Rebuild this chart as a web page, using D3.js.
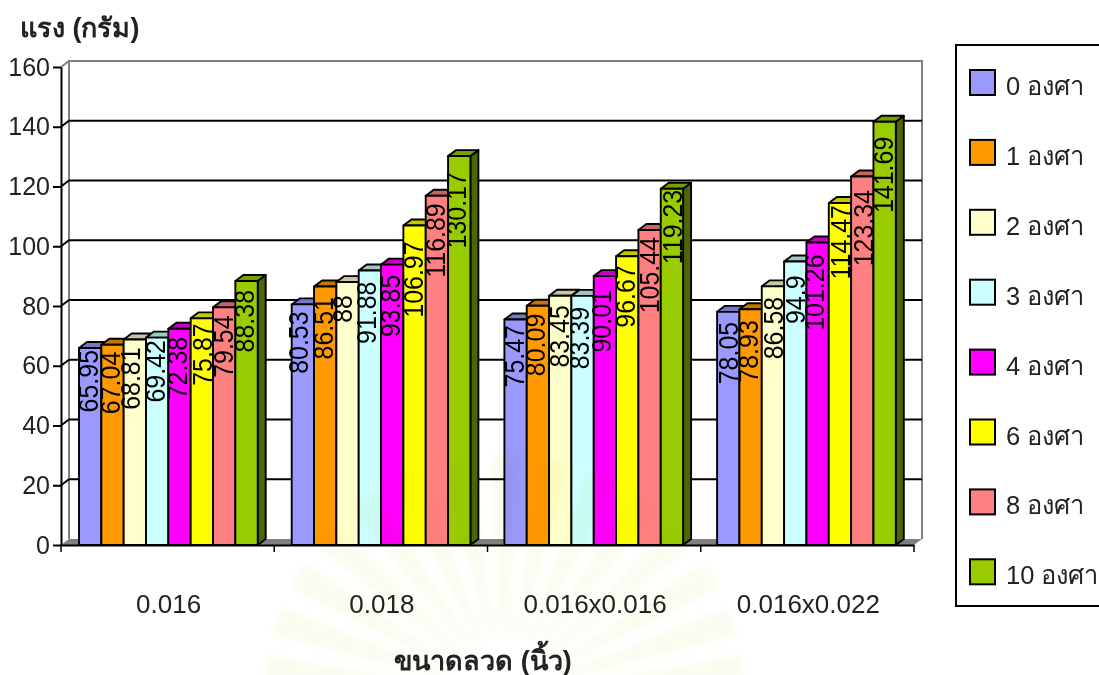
<!DOCTYPE html>
<html>
<head>
<meta charset="utf-8">
<script src="https://cdn.jsdelivr.net/npm/d3@7"></script>
<style>
html,body{margin:0;padding:0;background:#fff;}
svg{display:block;}
text{font-family:"Liberation Sans",Arial,sans-serif;fill:#222;}
</style>
</head>
<body>
<svg id="chart" width="1099" height="675"></svg>
<script>
const categories = ["0.016", "0.018", "0.016x0.016", "0.016x0.022"];
const seriesNames = ["0 องศา", "1 องศา", "2 องศา", "3 องศา", "4 องศา", "6 องศา", "8 องศา", "10 องศา"];
const deg0 = [65.95, 80.53, 75.47, 78.05];
const deg1 = [67.04, 86.51, 80.09, 78.93];
const deg2 = [68.81, 88, 83.45, 86.58];
const deg3 = [69.42, 91.88, 83.39, 94.9];
const deg4 = [72.38, 93.85, 90.01, 101.26];
const deg6 = [75.87, 106.97, 96.67, 114.47];
const deg8 = [79.54, 116.89, 105.44, 123.34];
const deg10 = [88.38, 130.17, 119.23, 141.69];
const seriesValues = [deg0, deg1, deg2, deg3, deg4, deg6, deg8, deg10];
const yTicks = [0, 20, 40, 60, 80, 100, 120, 140, 160];
const fills = ["#9999ff", "#ff9900", "#ffffcc", "#ccffff", "#ff00ff", "#ffff00", "#ff8080", "#99cc00"];

// Nudges for the value labels: how far each one starts below its bar top, and
// how far it sits from the bar centre (rows follow the series, columns the categories).
const labelDrop = [
  [2, 7, 5.5, 10], [7, 10.5, 8, 11], [8, 13, 9.5, 10.5], [2.5, 11, 11, 14],
  [8, 10, 14, 12], [5, 16, 9, 2], [8, 7.5, 7, 13.5], [9, 16, 1, 15]
];
const labelSide = [
  [-2, -4, -1, 0], [-2, -2, -3, -2], [-4, -5, -1, 0], [-2, -3, -3, 0],
  [-2, -2, -4, -3], [1, -1, -2, 0], [-1, -1, 0, 1], [-2, -3, 0, -1]
];
// Angles of the pale rays in the seal printed behind the page
const rayAngles = [-84, -72, -60, -48, -36, -24, -12, 0, 12, 24, 36, 48, 60, 72, 84];

const svg = d3.select("#chart");
const depthX = 8, depthY = 6;
const plotLeft = 61, plotRight = 914, plotTop = 67, plotBottom = 545;

const x = d3.scaleBand().domain(categories).range([plotLeft, plotRight]);
const barBand = d3.scaleBand().domain(categories).range([62, 912.8]);
const inner = d3.scaleBand().domain(d3.range(seriesNames.length)).range([17, barBand.bandwidth() - 17]);
const y = d3.scaleLinear().domain([0, 160]).range([plotBottom, plotTop]);

// floor and walls of the 3D plot box
svg.append("path")
  .attr("d", `M${plotLeft},${plotBottom}L${plotLeft + depthX},${plotBottom - depthY}L${plotRight + depthX},${plotBottom - depthY}L${plotRight},${plotBottom}Z`)
  .attr("fill", "#808080");
svg.append("path")
  .attr("d", `M${plotLeft},${plotTop}L${plotLeft + depthX},${plotTop - depthY}L${plotRight + depthX},${plotTop - depthY}L${plotRight + depthX},${plotBottom - depthY}`)
  .attr("fill", "none").attr("stroke", "#808080").attr("stroke-width", 2);
svg.append("line")
  .attr("x1", plotLeft + depthX).attr("x2", plotLeft + depthX)
  .attr("y1", plotTop - depthY).attr("y2", plotBottom - depthY)
  .attr("stroke", "#808080").attr("stroke-width", 2);

// gridlines run along the side wall and then the back wall
svg.append("g").selectAll("path").data(yTicks.filter(t => t > 0 && t < 160)).join("path")
  .attr("d", t => `M${plotLeft},${y(t)}L${plotLeft + depthX},${y(t) - depthY}L${plotRight + depthX},${y(t) - depthY}`)
  .attr("fill", "none").attr("stroke", "#000").attr("stroke-width", 2);

// bars: side face, top face, front face
const bars = svg.append("g");
categories.forEach((cat, c) => {
  seriesValues.forEach((vals, s) => {
    const v = vals[c];
    const bx = barBand(cat) + inner(s), bw = inner.bandwidth(), by = y(v), h = plotBottom - by;
    const g = bars.append("g").attr("stroke", "#000").attr("stroke-width", 1.9).attr("stroke-linejoin", "round");
    const rgb = d3.rgb(fills[s]);
    const shade = k => d3.rgb(rgb.r * k, rgb.g * k, rgb.b * k).formatHex();
    g.append("path")
      .attr("d", `M${bx + bw},${by}L${bx + bw + depthX},${by - depthY}L${bx + bw + depthX},${plotBottom - depthY}L${bx + bw},${plotBottom}Z`)
      .attr("fill", shade(0.5));
    g.append("path")
      .attr("d", `M${bx},${by}L${bx + depthX},${by - depthY}L${bx + bw + depthX},${by - depthY}L${bx + bw},${by}Z`)
      .attr("fill", shade(0.78));
    g.append("rect").attr("x", bx).attr("y", by).attr("width", bw).attr("height", h).attr("fill", fills[s]);
  });
});

// value labels, drawn above all bars and reading upward
const labels = svg.append("g");
categories.forEach((cat, c) => {
  seriesValues.forEach((vals, s) => {
    const v = vals[c];
    const cx = barBand(cat) + inner(s) + inner.bandwidth() / 2 + labelSide[s][c];
    labels.append("text")
      .attr("transform", `translate(${cx + 9.6},${y(v) + labelDrop[s][c]}) rotate(-90) scale(1.04,1.14)`)
      .attr("text-anchor", "end")
      .attr("font-size", 24)
      .style("fill", "#000")
      .text(v);
  });
});

// value axis
const yAxis = d3.axisLeft(y).tickValues(yTicks).tickSize(8).tickPadding(3).tickSizeOuter(0);
const yG = svg.append("g").attr("transform", `translate(${plotLeft},0)`).call(yAxis);
yG.selectAll("path,line").attr("stroke", "#000").attr("stroke-width", 2);
yG.selectAll("text").attr("font-size", 25).attr("fill", "#222");

// category axis, with ticks on the band edges
const xAxis = d3.axisBottom(x).tickValues([]).tickSizeOuter(0);
const xG = svg.append("g").attr("transform", `translate(0,${plotBottom})`).call(xAxis);
xG.select("path").attr("stroke", "#000").attr("stroke-width", 2);
const edges = categories.map(c => x(c)).concat(plotRight);
svg.append("g").selectAll("line").data(edges).join("line")
  .attr("x1", d => d).attr("x2", d => d).attr("y1", plotBottom).attr("y2", plotBottom + 7)
  .attr("stroke", "#000").attr("stroke-width", 1.5);
svg.append("g").selectAll("text").data(categories).join("text")
  .attr("x", d => x(d) + x.bandwidth() / 2 + 1).attr("y", 613)
  .attr("text-anchor", "middle").attr("font-size", 26).text(d => d);

// axis titles
svg.append("text").attr("x", 20).attr("y", 37)
  .attr("font-family", "'Liberation Serif', serif").attr("font-weight", "bold").attr("font-size", 27).attr("fill", "#111")
  .text("แรง (กรัม)");
svg.append("text").attr("x", 483).attr("y", 670).attr("text-anchor", "middle")
  .attr("font-family", "'Liberation Serif', serif").attr("font-weight", "bold").attr("font-size", 27).attr("fill", "#111")
  .text("ขนาดลวด (นิ้ว)");

// legend, its box running off the right edge
svg.append("rect").attr("x", 956).attr("y", 45).attr("width", 150).attr("height", 561)
  .attr("fill", "#fff").attr("stroke", "#000").attr("stroke-width", 2);
const legend = svg.append("g").selectAll("g").data(seriesNames).join("g")
  .attr("transform", (d, i) => `translate(970,${70 + i * 69.9})`);
legend.append("rect").attr("width", 25).attr("height", 25)
  .attr("fill", (d, i) => fills[i]).attr("stroke", "#000").attr("stroke-width", 2);
legend.append("text").attr("x", 36).attr("y", 25).attr("font-size", 25.5).text(d => d);

// faint sun-ray seal lying over the lower middle of the page
const defs = svg.append("defs");
defs.append("filter").attr("id", "soft")
  .attr("x", "-20%").attr("y", "-20%").attr("width", "140%").attr("height", "140%")
  .append("feGaussianBlur").attr("stdDeviation", 4);
const rayArc = d3.arc().innerRadius(60).outerRadius(240);
svg.append("g")
  .attr("transform", "translate(505,695)")
  .attr("filter", "url(#soft)")
  .style("mix-blend-mode", "multiply")
  .selectAll("path").data(rayAngles).join("path")
  .attr("d", a => rayArc({ startAngle: (a - 3.5) * Math.PI / 180, endAngle: (a + 3.5) * Math.PI / 180 }))
  .attr("fill", "#fcfbf0");
</script>
</body>
</html>
